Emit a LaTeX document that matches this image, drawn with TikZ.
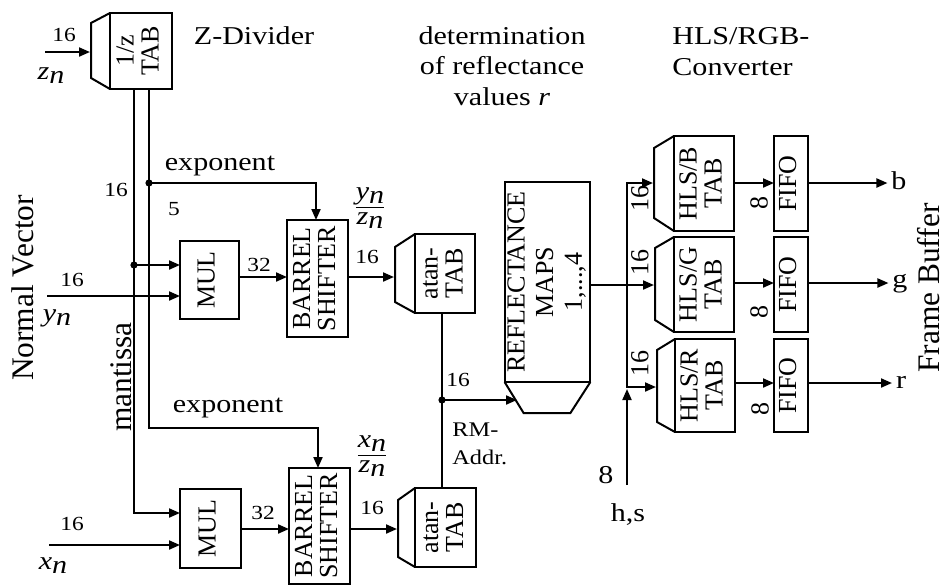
\documentclass[tikz,border=0pt]{standalone}
\usepackage{fontspec}
\usepackage{graphicx}
\setmainfont{Liberation Serif}
\newfontfamily\wf[FakeStretch=1.17]{Liberation Serif}
\usetikzlibrary{arrows.meta,fit,calc}
\newcommand\rot[2][12.5]{\rotatebox{90}{\fontsize{13}{#1}\selectfont\begin{tabular}{@{}c@{}}#2\end{tabular}}}
\newcommand\vs[2]{\textit{#1}\raisebox{-0.35ex}{\textit{#2}}}
% name, centre, width, height, ear-left x offset, ear top inset, ear bottom inset, text
\newcommand\tabbox[8]{%
  \node[bxs={#3}{#4}] (#1) at #2 {\rot{#8}};
  \coordinate (#1Etop) at ($(#1.north west)+(-#5,#6)$);
  \coordinate (#1Ebot) at ($(#1.south west)+(-#5,-#7)$);
  \node[fit={(#1Etop)(#1Ebot)}, inner sep=0pt, outer sep=0pt] (#1E) {};
  \draw[ln] (#1.north west) -- (#1Etop) -- (#1Ebot) -- (#1.south west);}
\tikzset{
  ln/.style={line width=1pt},
  ar/.style={line width=1pt,-{Triangle[length=5.5pt,width=4.5pt]}},
  bx/.style={draw,line width=1pt,inner sep=0pt,outer sep=0pt},
  bxs/.style 2 args={bx,minimum width=#1*0.5pt,minimum height=#2*0.5pt},
  lbl/.style={font=\wf\fontsize{12.85}{15.4}\selectfont,inner sep=0pt,align=center},
  lblsm/.style={font=\wf\fontsize{10}{12}\selectfont,inner sep=0pt},
  rl/.style={rotate=90,font=\fontsize{13}{15}\selectfont,inner sep=0pt},
  side/.style={rotate=90,font=\fontsize{15.7}{18}\selectfont,inner sep=0pt},
  jdot/.style={circle,fill,inner sep=0pt,minimum size=3.6pt},
  outl/.style={font=\wf\fontsize{12.85}{15.4}\selectfont,inner sep=0pt,outer sep=2pt}
}
\begin{document}
\begin{tikzpicture}[x=0.5pt,y=-0.5pt]
\useasboundingbox (0,0) rectangle (947,586);

% ---------- blocks ----------
\tabbox{ztab}{(141,51)}{62}{76}{19}{10}{11}{1/z\\TAB}
\node[bxs={59}{78}] (mul1) at (209.5,280) {\rot{MUL}};
\node[bxs={61}{79}] (mul2) at (210.5,528.5) {\rot{MUL}};
\node[bxs={61}{117}] (bs1) at (317.5,278.5) {\rot{BARREL\\SHIFTER}};
\node[bxs={61}{116}] (bs2) at (319.5,526) {\rot{BARREL\\SHIFTER}};
\tabbox{at1}{(445,273.5)}{60}{79}{20}{13}{11}{atan-\\TAB}
\tabbox{at2}{(445.5,527.5)}{61}{79}{17}{12}{10}{atan-\\TAB}
\node[bxs={81}{200}] (rm) at (547.5,282) {\rot[14.3]{REFLECTANCE\\MAPS\\1,...,4}};
\draw[ln] (rm.south west) -- ($(rm.south west)+(19,31)$) -- ($(rm.south east)+(-20,31)$) -- (rm.south east);
\coordinate (rmin) at (517,400);
\tabbox{hb}{(704,183.5)}{60}{95}{20}{12}{13}{HLS/B\\TAB}
\tabbox{hg}{(704,284.5)}{60}{95}{19}{11}{12}{HLS/G\\TAB}
\tabbox{hr}{(705,385.5)}{60}{93}{18}{11}{10}{HLS/R\\TAB}
\node[bxs={34}{95}] (fb) at (791,183.5) {\rot{FIFO}};
\node[bxs={34}{95}] (fg) at (791,284.5) {\rot{FIFO}};
\node[bxs={34}{93}] (fr) at (791,385.5) {\rot{FIFO}};

% ---------- titles ----------
\node[lbl] (tz) at (254,36) {Z-Divider};
\node[lbl] (tr) at (502,66) {determination\\of reflectance\\values \textit{r}};
\node[lbl, align=left, anchor=west] (tc) at (672,52) {HLS/RGB-\\Converter};
\node[side] (nv) at (23,288) {Normal Vector};
\node[side] (fbuf) at (929,288) {Frame Buffer};
\node[side] (mant) at (121,377) {mantissa};

% ---------- Z divider input ----------
\coordinate (zin) at (45,52);
\draw[ar] (zin) -- (zin -| ztabE.west);
\node[lblsm] (l16z) at (64,35) {16};
\node[lbl] (zn) at (51,76) {\vs{z}{n}};

% ---------- mantissa / exponent buses ----------
\coordinate (mtop) at ($(ztab.south west)+(24,0)$);
\coordinate (etop) at ($(ztab.south west)+(39,0)$);
\node[jdot] (ej1) at (149,183) {};
\node[jdot] (mj1) at (134,265) {};
\draw[ln] (etop) -- (ej1.center);
\draw[ar] (ej1.center) -| (bs1.north -| 316,0);
\draw[ar] (ej1.center) |- (318,428) -- (bs2.north -| 318,0);
\draw[ln] (mtop) -- (mj1.center);
\draw[ar] (mj1.center) |- (mul2.west |- 0,513);
\draw[ar] (mj1.center) -- (mj1 -| mul1.west);
\node[lbl] (lexp1) at (220,166) {exponent};
\node[lbl] (lexp2) at (228,408) {exponent};
\node[lblsm] (l5) at (174,209) {5};
\node[lblsm] (l16m) at (116,190) {16};

% ---------- y / x inputs ----------
\coordinate (yin) at (47,296);
\draw[ar] (yin) -- (yin -| mul1.west);
\node[lblsm] (l16y) at (72,280) {16};
\node[lbl] (yn) at (57,318) {\vs{y}{n}};
\coordinate (xin) at (49,545);
\draw[ar] (xin) -- (xin -| mul2.west);
\node[lblsm] (l16x) at (72,524) {16};
\node[lbl] (xn) at (53,566) {\vs{x}{n}};

% ---------- MUL -> BARREL -> atan ----------
\draw[ar] (mul1.east |- 0,277) -- (bs1.west |- 0,277);
\draw[ar] (mul2.east |- 0,529) -- (bs2.west |- 0,529);
\node[lblsm] (l32a) at (259,265) {32};
\node[lblsm] (l32b) at (263,513) {32};
\draw[ar] (bs1.east |- 0,277) -- (at1E.west |- 0,277);
\draw[ar] (bs2.east |- 0,529) -- (at2E.west |- 0,529);
\node[lblsm] (l16b1) at (367,257) {16};
\node[lblsm] (l16b2) at (372,508) {16};
\node[lbl] (fy) at (370,207) {\def\arraystretch{0.8}\begin{tabular}{@{}c@{}}\vs{y}{n}\\\hline\vs{z}{n}\end{tabular}};
\node[lbl] (fx) at (372,455) {\def\arraystretch{0.8}\begin{tabular}{@{}c@{}}\vs{x}{n}\\\hline\vs{z}{n}\end{tabular}};

% ---------- atan -> reflectance ----------
\node[jdot] (aj) at (442,400) {};
\draw[ln] (at1.south -| aj) -- (at2.north -| aj);
\draw[ar] (aj.center) -- (rmin);
\node[lblsm] (l16r) at (458,380) {16};
\node[font=\wf\fontsize{10.4}{14}\selectfont, inner sep=0pt, align=left, anchor=west] (rma) at (452,444) {RM-\\Addr.};

% ---------- reflectance -> HLS ----------
\coordinate (bj) at (627,285);
\draw[ln] (rm.east |- bj) -- (bj);
\draw[ar] (bj) -- (bj -| hgE.west);
\draw[ar] (bj) |- (hbE.west |- 0,183);
\draw[ar] (bj) |- (hrE.west |- 0,387);
\node[rl] (l16h1) at (640,198) {16};
\node[rl] (l16h2) at (640,262) {16};
\node[rl] (l16h3) at (640,363) {16};
\coordinate (hsin) at (627,485);
\draw[ar] (hsin) -- (627,389);
\node[lbl] (l8hs) at (606,475) {8};
\node[lbl] (hs) at (628,515) {h,s};

% ---------- HLS -> FIFO -> outputs ----------
\draw[ar] (hb.east |- 0,183) -- (fb.west |- 0,183);
\draw[ar] (hg.east |- 0,283) -- (fg.west |- 0,283);
\draw[ar] (hr.east |- 0,383) -- (fr.west |- 0,383);
\node[rl] (l8b) at (759,203) {8};
\node[rl] (l8g) at (759,312) {8};
\node[rl] (l8r) at (760,409) {8};
\node[outl] (ob) at (899,181) {b};
\node[outl] (og) at (900,284) {g};
\node[outl] (or) at (901,382) {r};
\draw[ar] (fb.east |- 0,183) -- (ob.west |- 0,183);
\draw[ar] (fg.east |- 0,283) -- (og.west |- 0,283);
\draw[ar] (fr.east |- 0,383) -- (or.west |- 0,383);
\end{tikzpicture}
\end{document}
